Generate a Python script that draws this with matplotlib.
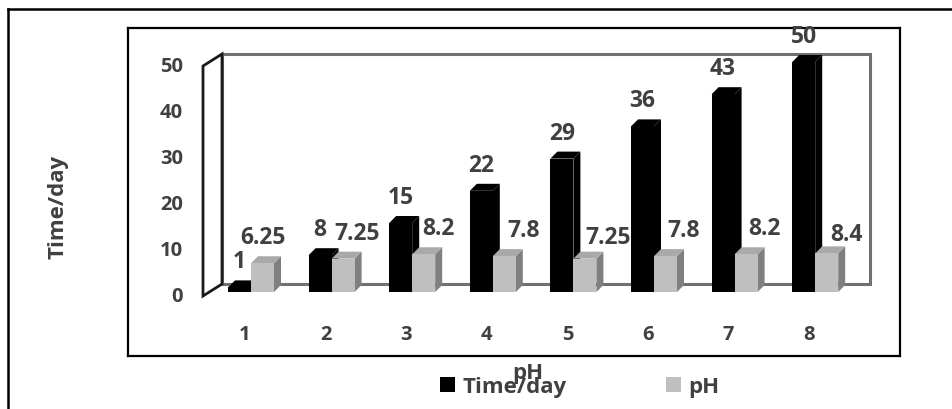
import matplotlib.pyplot as plt
from matplotlib.patches import Polygon, Rectangle, Patch
from matplotlib.lines import Line2D
import numpy as np

categories = ['1', '2', '3', '4', '5', '6', '7', '8']
time_day = [1, 8, 15, 22, 29, 36, 43, 50]
ph = [6.25, 7.25, 8.2, 7.8, 7.25, 7.8, 8.2, 8.4]
y_ticks = [0, 10, 20, 30, 40, 50]

# small pixel nudges for the pH labels (Excel shifts them to dodge the black bars)
ph_label_dx = [0, 14, 15, 19, 23, 18, 18, 20]
ph_label_dy = [0, 0, 0, 0, -4, 0, 0, -7]

W, H = 953, 410
TXT = '#404040'
plt.rcParams['font.family'] = ['Open Sans', 'DejaVu Sans']
plt.rcParams['font.weight'] = 'bold'

fig = plt.figure(figsize=(W / 100, H / 100), dpi=100)

# plot box in pixels
box_l, box_r, box_t, box_b = 128, 900, 29, 357
ax = fig.add_axes([box_l / W, 1 - box_b / H, (box_r - box_l) / W, (box_b - box_t) / H])

# scale: pixels per category step / per value unit, and where category 1 / value 0 sit
px_cat, px_val = 80.6, 4.6
x0_px, base_px = 251, 293
ax.set_xlim(1 + (box_l - x0_px) / px_cat, 1 + (box_r - x0_px) / px_cat)
ax.set_ylim((base_px - box_b) / px_val, (base_px - box_t) / px_val)
ax.set_xticks([])
ax.set_yticks([])
for s in ax.spines.values():
    s.set_color('black')
    s.set_linewidth(1.6)


def px(dx, dy):
    # pixel offset -> data offset (dy positive = up)
    return dx / px_cat, dy / px_val


x = np.arange(1, len(categories) + 1)

# walls: left side wall + back wall, 3D depth as an oblique offset
wdx, wdy = px(19, 12)
_, wall_base = px(0, -4)
wall_x = x[0] + px(-48, 0)[0]
wall_right = x[-1] + px(55, 0)[0]
top = y_ticks[-1]
back = Polygon([(wall_x + wdx, wall_base + wdy), (wall_right, wall_base + wdy),
                (wall_right, top + wall_base + wdy), (wall_x + wdx, top + wall_base + wdy)],
               closed=True, facecolor='white', edgecolor='#707070', lw=2.2, zorder=1)
ax.add_patch(back)
side = Polygon([(wall_x, wall_base), (wall_x + wdx, wall_base + wdy),
                (wall_x + wdx, top + wall_base + wdy), (wall_x, top + wall_base)],
               closed=True, facecolor='white', edgecolor='#1a1a1a', lw=2.0, zorder=2)
ax.add_patch(side)

# value axis labels on the front edge of the side wall
for t in y_ticks:
    ax.text(wall_x + px(-20, 0)[0], t + wall_base, str(t), ha='right', va='center',
            fontsize=14.5, color=TXT, fontweight='bold')

# category labels
for xi, c in zip(x, categories):
    ax.text(xi + px(-6, 0)[0], px(0, -42)[1], c, ha='center', va='center',
            fontsize=14.5, color=TXT, fontweight='bold')

bw = 23 / px_cat
ddx, ddy = px(7, 7)


def bar3d(left, h, front, topc, sidec, z):
    right = left + bw
    ax.add_patch(Polygon([(right, 0), (right + ddx, ddy), (right + ddx, h + ddy), (right, h)],
                         closed=True, facecolor=sidec, edgecolor='none', zorder=z))
    ax.add_patch(Polygon([(left, h), (right, h), (right + ddx, h + ddy), (left + ddx, h + ddy)],
                         closed=True, facecolor=topc, edgecolor='none', zorder=z))
    ax.add_patch(Rectangle((left, 0), bw, h, facecolor=front, edgecolor='none', zorder=z))


for i, xi in enumerate(x):
    bar3d(xi - bw, time_day[i], 'black', 'black', 'black', 3 + 2 * i)
    bar3d(xi, ph[i], '#bfbfbf', '#a9a9a9', '#7f7f7f', 4 + 2 * i)
    ax.text(xi - bw / 2, time_day[i] + px(0, 26)[1], str(time_day[i]), ha='center',
            va='center', fontsize=16.5, color=TXT, fontweight='bold', zorder=30)
    ax.text(xi + bw / 2 + px(ph_label_dx[i], 0)[0], ph[i] + px(0, 26 + ph_label_dy[i])[1],
            f'{ph[i]:g}', ha='center', va='center', fontsize=16.5, color=TXT,
            fontweight='bold', zorder=30)

# axis titles
fig.text(58 / W, 1 - 207 / H, 'Time/day', rotation=90, ha='center', va='center',
         fontsize=16, color=TXT, fontweight='bold')
fig.text(528 / W, 1 - 374 / H, 'pH', ha='center', va='center',
         fontsize=16, color=TXT, fontweight='bold')

handles = [Patch(facecolor='black', edgecolor='none', label='Time/day'),
           Patch(facecolor='#bfbfbf', edgecolor='none', label='pH')]
leg = fig.legend(handles=handles, loc='center', bbox_to_anchor=(580 / W, 1 - 388 / H),
                 ncol=2, frameon=False, fontsize=16, handlelength=0.65, handleheight=0.65,
                 handletextpad=0.35, columnspacing=4.5, borderpad=0)
for t in leg.get_texts():
    t.set_color(TXT)
    t.set_fontweight('bold')

# outer frame (only top and left edges fall inside the image)
fig.add_artist(Line2D([8 / W, 8 / W], [0, 1 - 10 / H], color='black', lw=1.8,
                      transform=fig.transFigure))
fig.add_artist(Line2D([8 / W, 1], [1 - 10 / H, 1 - 10 / H], color='black', lw=1.8,
                      transform=fig.transFigure))

fig.savefig('out.png', dpi=100)
